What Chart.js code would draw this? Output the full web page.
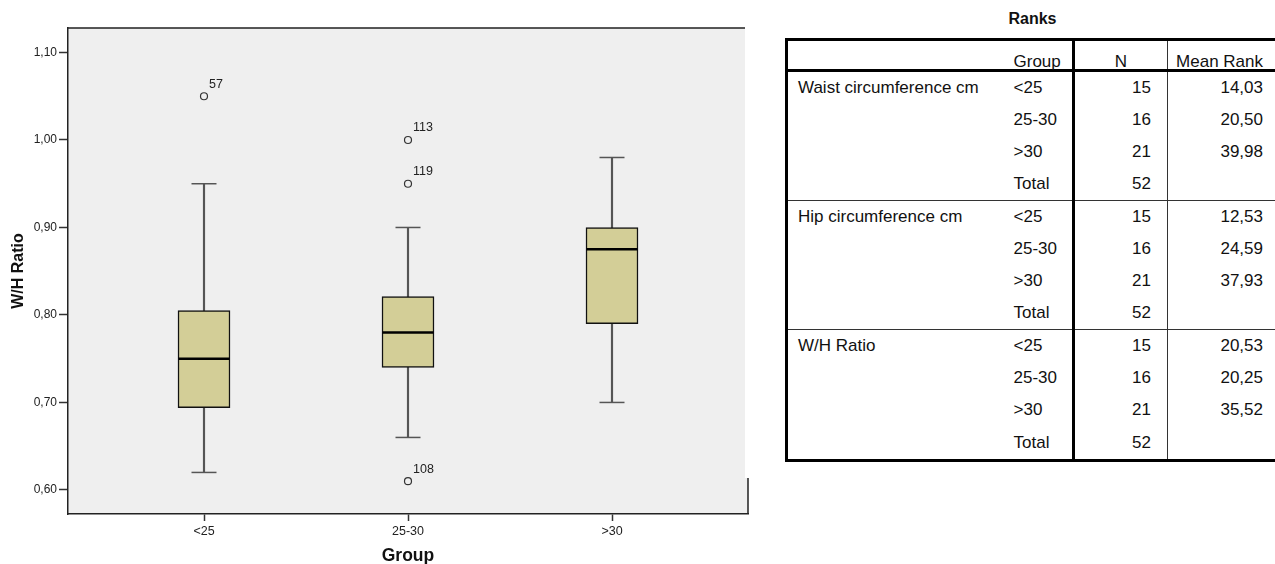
<!DOCTYPE html>
<html>
<head>
<meta charset="utf-8">
<script src="https://cdn.jsdelivr.net/npm/chart.js@4.4.1/dist/chart.umd.min.js"></script>
<style>
  body { margin: 0; width: 1275px; height: 564px; overflow: hidden; background: #fff; position: relative;
         font-family: "Liberation Sans", Arial, sans-serif; }
  #whChart { position: absolute; left: 0; top: 0; }
  #ranksTitle { position: absolute; left: 785px; width: 495px; top: 10px; text-align: center;
                font-weight: bold; font-size: 16px; color: #111; }
  #ranks { position: absolute; left: 785px; top: 38px; border-collapse: collapse; table-layout: fixed;
           width: 500px; font-size: 17px; color: #111; border: 3px solid #000; }
  #ranks td { padding: 0; white-space: nowrap; height: 32.1px; }
  #ranks tr.head td { height: 27.5px; line-height: 14px; vertical-align: bottom; padding-bottom: 0; border-bottom: 3px solid #000; }
  #ranks tr.first td { border-top: 1.5px solid #333; }
  #ranks td.c1 { padding-left: 10px; }
  #ranks td.c2 { padding-left: 7px; border-right: 3px solid #000; }
  #ranks td.c3 { text-align: right; padding-right: 16px; border-right: 1.5px solid #333; }
  #ranks td.c4 { text-align: right; padding-right: 22px; }
  #ranks tr.head td.c3 { text-align: center; padding-right: 0; }
</style>
</head>
<body>
<canvas id="whChart" width="776" height="564"></canvas>
<div id="ranksTitle">Ranks</div>
<table id="ranks">
  <colgroup><col style="width:220px"><col style="width:67px"><col style="width:94px"><col style="width:119px"></colgroup>
  <tbody id="ranksBody"></tbody>
</table>
<script>
// box plot values (W/H Ratio by group)
const groups = ['<25', '25-30', '>30'];
const whMin = [0.62, 0.66, 0.70];
const whQ1 = [0.694, 0.74, 0.79];
const whMedian = [0.75, 0.78, 0.875];
const whQ3 = [0.805, 0.821, 0.90];
const whMax = [0.95, 0.90, 0.98];

// outliers with their case numbers
const outlierGroup = [1, 2, 2, 2];
const outlierValue = [1.05, 1.00, 0.95, 0.61];
const outlierCase = ['57', '113', '119', '108'];

const yTicks = [0.60, 0.70, 0.80, 0.90, 1.00, 1.10];

// Ranks table
const rankVariables = ['Waist circumference cm', 'Hip circumference cm', 'W/H Ratio'];
const rankGroups = ['<25', '25-30', '>30', 'Total'];
const rankN = [15, 16, 21, 52];
const waistMeanRank = [14.03, 20.50, 39.98];
const hipMeanRank = [12.53, 24.59, 37.93];
const whMeanRank = [20.53, 20.25, 35.52];

function commaNum(v) {
  return v.toFixed(2).replace('.', ',');
}

// build the table
const meanRanks = [waistMeanRank, hipMeanRank, whMeanRank];
let rows = '<tr class="head"><td class="c1"></td><td class="c2">Group</td><td class="c3">N</td><td class="c4">Mean Rank</td></tr>';
rankVariables.forEach((name, v) => {
  rankGroups.forEach((g, i) => {
    const mr = i < meanRanks[v].length ? commaNum(meanRanks[v][i]) : '';
    rows += '<tr' + (i === 0 ? ' class="first"' : '') + '>' +
      '<td class="c1">' + (i === 0 ? name : '') + '</td>' +
      '<td class="c2">' + g.replace('<', '&lt;').replace('>', '&gt;') + '</td>' +
      '<td class="c3">' + rankN[i] + '</td>' +
      '<td class="c4">' + mr + '</td></tr>';
  });
});
document.getElementById('ranksBody').innerHTML = rows;

Chart.defaults.font.family = '"Liberation Sans", Arial, sans-serif';
Chart.defaults.color = '#222';

// grey plot area and the partial frame
const plotFrame = {
  id: 'plotFrame',
  beforeDraw(chart) {
    const { ctx, chartArea: a } = chart;
    ctx.save();
    ctx.fillStyle = '#efefef';
    ctx.fillRect(a.left, a.top, a.right - a.left - 3, a.bottom - a.top);
    ctx.fillRect(a.left, a.bottom - 36, a.right - a.left, 36);
    ctx.strokeStyle = '#222';
    ctx.lineWidth = 1.5;
    ctx.beginPath();
    ctx.moveTo(a.left, a.top);
    ctx.lineTo(a.right - 3, a.top);
    ctx.moveTo(a.right, a.bottom - 36);
    ctx.lineTo(a.right, a.bottom);
    ctx.stroke();
    ctx.restore();
  }
};

// case numbers next to the outlier circles
const outlierLabels = {
  id: 'outlierLabels',
  afterDatasetsDraw(chart) {
    const ctx = chart.ctx;
    const meta = chart.getDatasetMeta(4);
    ctx.save();
    ctx.font = '12.5px "Liberation Sans", Arial, sans-serif';
    ctx.fillStyle = '#222';
    ctx.textBaseline = 'middle';
    meta.data.forEach((pt, i) => {
      ctx.fillText(outlierCase[i], pt.x + 5, pt.y - 12);
    });
    ctx.restore();
  }
};

const capPoints = [];
groups.forEach((g, i) => {
  capPoints.push({ x: i + 1, y: whMin[i] });
  capPoints.push({ x: i + 1, y: whMax[i] });
});

new Chart(document.getElementById('whChart'), {
  type: 'bar',
  data: {
    datasets: [
      {
        // whisker line from min to max, box covers the middle
        type: 'bar',
        data: groups.map((g, i) => ({ x: i + 1, y: [whMin[i], whMax[i]] })),
        backgroundColor: '#555',
        borderWidth: 0,
        barThickness: 1.5,
        grouped: false,
        order: 4
      },
      {
        type: 'scatter',
        data: capPoints,
        pointStyle: 'line',
        pointRadius: 12.5,
        borderColor: '#555',
        pointBorderWidth: 1.5,
        order: 3
      },
      {
        type: 'bar',
        data: groups.map((g, i) => ({ x: i + 1, y: [whQ1[i], whQ3[i]] })),
        backgroundColor: '#d3ce97',
        borderColor: '#111',
        borderWidth: 1.5,
        borderSkipped: false,
        barThickness: 52,
        grouped: false,
        order: 2
      },
      {
        type: 'scatter',
        data: groups.map((g, i) => ({ x: i + 1, y: whMedian[i] })),
        pointStyle: 'line',
        pointRadius: 25.5,
        borderColor: '#000',
        pointBorderWidth: 2.5,
        order: 0
      },
      {
        type: 'scatter',
        data: outlierGroup.map((g, i) => ({ x: g, y: outlierValue[i] })),
        pointStyle: 'circle',
        pointRadius: 3.5,
        backgroundColor: '#efefef',
        borderColor: '#333',
        pointBorderWidth: 1.2,
        order: 1
      }
    ]
  },
  options: {
    responsive: false,
    animation: false,
    events: [],
    layout: { padding: { left: 0, top: 28, right: 12, bottom: 0 } },
    plugins: {
      legend: { display: false },
      tooltip: { enabled: false }
    },
    scales: {
      x: {
        type: 'linear',
        min: 1 / 3,
        max: 11 / 3,
        offset: false,
        afterBuildTicks: scale => { scale.ticks = groups.map((g, i) => ({ value: i + 1 })); },
        afterFit: scale => { scale.height = 50; },
        ticks: {
          callback: v => groups[Math.round(v) - 1],
          font: { size: 12.5 },
          color: '#222',
          padding: 3,
          maxRotation: 0
        },
        grid: { offset: false, drawOnChartArea: false, tickLength: 7, tickColor: '#333', tickWidth: 1.5 },
        border: { color: '#222', width: 1.5 },
        title: { display: true, text: 'Group', font: { size: 17.5, weight: 'bold' }, color: '#111', padding: { top: 0, bottom: -3 } }
      },
      y: {
        min: 0.5725,
        max: 1.128,
        beginAtZero: false,
        afterBuildTicks: scale => { scale.ticks = yTicks.map(v => ({ value: v })); },
        afterFit: scale => { scale.width = 68; },
        ticks: {
          callback: v => commaNum(v),
          font: { size: 12 },
          color: '#222',
          padding: 2
        },
        grid: { drawOnChartArea: false, tickLength: 9, tickColor: '#333', tickWidth: 1.5 },
        border: { color: '#222', width: 1.5 },
        title: { display: true, text: 'W/H Ratio', font: { size: 16, weight: 'bold' }, color: '#111', padding: { top: 9 } }
      }
    }
  },
  plugins: [plotFrame, outlierLabels]
});
</script>
</body>
</html>
